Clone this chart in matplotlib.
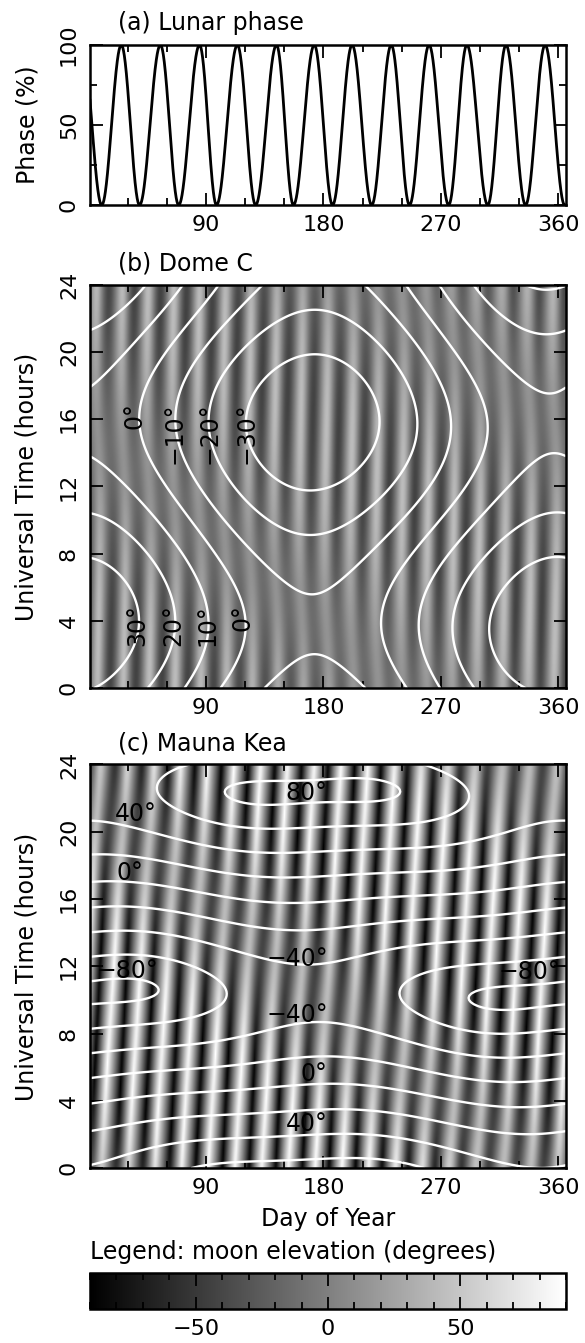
import numpy as np
import matplotlib
matplotlib.use("Agg")
import matplotlib.pyplot as plt
from matplotlib.ticker import MultipleLocator

plt.rcParams['font.family'] = ['DejaVu Sans']
plt.rcParams['font.size'] = 17
plt.rcParams['xtick.labelsize'] = 16
plt.rcParams['ytick.labelsize'] = 16

# lunar phase: days of new / full moon
new_moon_days = [10, 39, 69, 98, 128, 157, 187, 217, 246, 276, 306, 335, 365]
full_moon_days = [-5, 25, 55, 85, 114, 144, 173, 202, 232, 261, 290, 320, 350]

# sites (latitude, east longitude, degrees)
domec_lat, domec_lon = -75.1, 123.35
mk_lat, mk_lon = 19.82, -155.47

# sun elevation contour levels
domec_levels = [-30, -20, -10, 0, 10, 20, 30]
mk_levels = [-80, -60, -40, -20, 0, 20, 40, 60, 80]

# contour labels: (day, UT, text)
domec_labels_top = [(35, 17.0, "0°"), (66, 17.0, "−10°"), (93, 17.0, "−20°"), (121, 17.0, "−30°")]
domec_labels_bot = [(37, 5.0, "30°"), (65, 5.0, "20°"), (91, 5.0, "10°"), (118, 5.0, "0°")]
mk_labels = [(167, 22.3, "80°"), (36, 21.05, "40°"), (32, 17.55, "0°"), (30, 11.7, "−80°"),
             (160, 12.45, "−40°"), (160, 9.1, "−40°"), (173, 5.6, "0°"), (167, 2.6, "40°"),
             (338, 11.65, "−80°")]

JD0 = 2453371.5        # 2005 Jan 1, 0h UT
moon_day_scale = 1.4   # stripe spacing in the moon image (~20 days)


def sun_radec(jd):
    n = jd - 2451545.0
    L = 280.460 + 0.9856474 * n
    g = np.radians(357.528 + 0.9856003 * n)
    lam = np.radians(L + 1.915 * np.sin(g) + 0.020 * np.sin(2 * g))
    eps = np.radians(23.439)
    ra = np.arctan2(np.cos(eps) * np.sin(lam), np.cos(lam))
    dec = np.arcsin(np.sin(eps) * np.sin(lam))
    return ra, dec


def moon_radec(jd):
    T = (jd - 2451545.0) / 36525.0
    s = lambda a, b: np.sin(np.radians(a + b * T))
    lam = (218.32 + 481267.881 * T + 6.29 * s(135.0, 477198.87) - 1.27 * s(259.3, -413335.36)
           + 0.66 * s(235.7, 890534.22) + 0.21 * s(269.9, 954397.74)
           - 0.19 * s(357.5, 35999.05) - 0.11 * s(186.5, 966404.03))
    bet = (5.13 * s(93.3, 483202.02) + 0.28 * s(228.2, 960400.89)
           - 0.28 * s(318.3, 6003.15) - 0.17 * s(217.6, -407332.21))
    lam, bet = np.radians(lam), np.radians(bet)
    l = np.cos(bet) * np.cos(lam)
    m = 0.9175 * np.cos(bet) * np.sin(lam) - 0.3978 * np.sin(bet)
    n = 0.3978 * np.cos(bet) * np.sin(lam) + 0.9175 * np.sin(bet)
    return np.arctan2(m, l), np.arcsin(n)


def elevation(ra, dec, jd, lat, lon):
    gmst = np.radians(280.46061837 + 360.98564736629 * (jd - 2451545.0))
    ha = gmst + np.radians(lon) - ra
    la = np.radians(lat)
    return np.degrees(np.arcsin(np.sin(la) * np.sin(dec) + np.cos(la) * np.cos(dec) * np.cos(ha)))


def phase_curve(d):
    ev = sorted([(x, 0.0) for x in new_moon_days] + [(x, 100.0) for x in full_moon_days])
    out = np.zeros_like(d)
    for (d0, p0), (d1, p1) in zip(ev[:-1], ev[1:]):
        sel = (d >= d0) & (d <= d1)
        f = 0.5 * (1 - np.cos(np.pi * (d[sel] - d0) / (d1 - d0)))
        out[sel] = p0 + (p1 - p0) * f
    return out


days_img = np.arange(1, 367)          # one column per calendar day
ut_img = np.linspace(0, 24, 193)
D, U = np.meshgrid(days_img, ut_img)
JD = JD0 + (D - 1) + U / 24.0
mra, mdec = moon_radec(JD0 + moon_day_scale * (D - 1) + U / 24.0)
sra, sdec = sun_radec(JD)

fig = plt.figure(figsize=(5.85, 13.43), dpi=100)
W, H = 585.0, 1343.0
left, width = 90 / W, 476 / W


def style(ax, ymaj, ymin):
    ax.set_xlim(1, 366)
    ax.xaxis.set_major_locator(MultipleLocator(90))
    ax.xaxis.set_minor_locator(MultipleLocator(30))
    ax.yaxis.set_major_locator(MultipleLocator(ymaj))
    if ymin:
        ax.yaxis.set_minor_locator(MultipleLocator(ymin))
    ax.tick_params(which='both', direction='in', top=True, right=True, width=1.3)
    ax.tick_params(which='major', length=9)
    ax.tick_params(which='minor', length=5)
    ax.tick_params(axis='x', pad=7)
    ax.tick_params(axis='y', pad=8)
    for lab in ax.get_yticklabels():
        lab.set_rotation(90)
        lab.set_va('center')
    for sp in ax.spines.values():
        sp.set_linewidth(1.8)


# (a) lunar phase
axa = fig.add_axes([left, 1 - 205 / H, width, 160 / H])
dd = np.linspace(1, 366, 3000)
axa.plot(dd, phase_curve(dd), color='black', lw=2.0)
axa.set_ylim(0, 100)
style(axa, 50, 25)
fig.text(118 / W, 1 - 30 / H, "(a) Lunar phase", ha='left', va='baseline')
fig.text(27 / W, 1 - 125 / H, "Phase (%)", rotation=90, ha='center', va='center')

# (b) Dome C and (c) Mauna Kea
panels = [(284.5, domec_lat, domec_lon, domec_levels, "(b) Dome C"),
          (764.4, mk_lat, mk_lon, mk_levels, "(c) Mauna Kea")]
axes = []
for top, lat, lon, levels, title in panels:
    ax = fig.add_axes([left, 1 - (top + 403.8) / H, width, 403.8 / H])
    moon_el = elevation(mra, mdec, JD, lat, lon)
    sun_el = elevation(sra, sdec, JD, lat, lon)
    im = ax.imshow(moon_el, extent=[1, 366, 0, 24], origin='lower', aspect='auto',
                   cmap='gray', vmin=-90, vmax=90, interpolation='bilinear')
    ax.contour(D, U, sun_el, levels=levels, colors='white', linewidths=1.7,
               linestyles='solid')
    ax.set_ylim(0, 24)
    style(ax, 4, None)
    fig.text(118 / W, 1 - (top - 14) / H, title, ha='left', va='baseline')
    fig.text(27 / W, 1 - (top + 202) / H, "Universal Time (hours)", rotation=90,
             ha='center', va='center')
    axes.append(ax)

axb, axc = axes
for x, y, t in domec_labels_top + domec_labels_bot:
    axb.text(x, y, t, rotation=90, ha='center', va='top')
for x, y, t in mk_labels:
    axc.text(x, y, t, ha='center', va='center')

fig.text(328 / W, 1 - 1226 / H, "Day of Year", ha='center', va='baseline')

# colour bar
fig.text(90 / W, 1 - 1259 / H, "Legend: moon elevation (degrees)", ha='left', va='baseline')
cax = fig.add_axes([left, 1 - 1309 / H, width, 36 / H])
cb = fig.colorbar(im, cax=cax, orientation='horizontal')
cb.set_ticks([-50, 0, 50])
cax.xaxis.set_minor_locator(MultipleLocator(10))
cax.xaxis.set_ticks_position('both')
cax.tick_params(which='both', direction='in', width=1.3, pad=7)
cax.tick_params(which='major', length=9)
cax.tick_params(which='minor', length=5)
cb.outline.set_linewidth(1.8)

fig.savefig("out.png", dpi=100)
